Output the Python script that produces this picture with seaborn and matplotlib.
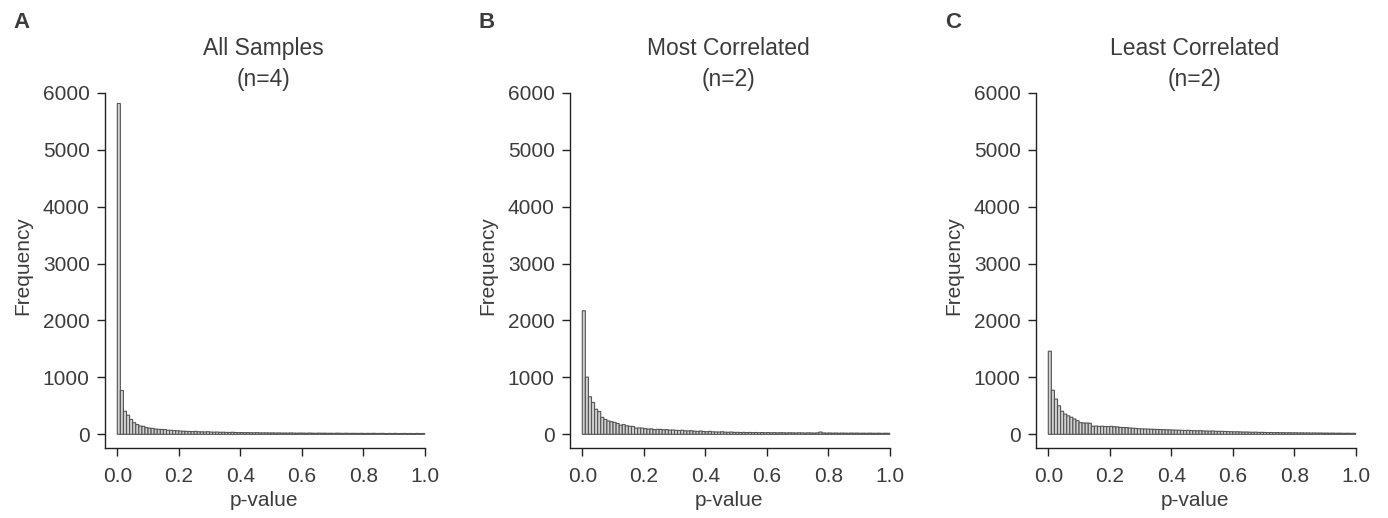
import numpy as np
import pandas as pd
import matplotlib
matplotlib.use("Agg")
import matplotlib.pyplot as plt
import seaborn as sns

# ---- data (counts per p-value bin, 100 bins of width 0.01) ----
panel_letters = ["A", "B", "C"]
panel_titles = ["All Samples\n(n=4)", "Most Correlated\n(n=2)", "Least Correlated\n(n=2)"]

counts_all = [5810, 770, 405, 335, 262, 205, 172, 146, 140, 118,
              108, 104, 92, 88, 86, 84, 72, 70, 66, 62,
              58, 55, 52, 50, 48, 52, 45, 44, 42, 46,
              40, 38, 40, 36, 37, 34, 33, 36, 32, 30,
              31, 29, 30, 28, 27, 29, 26, 25, 26, 24,
              25, 23, 24, 22, 23, 21, 24, 22, 20, 22,
              21, 19, 22, 20, 18, 21, 19, 20, 18, 19,
              17, 20, 18, 17, 19, 16, 18, 17, 16, 18,
              15, 17, 16, 18, 15, 16, 17, 14, 16, 15,
              17, 14, 15, 16, 14, 15, 13, 16, 14, 15]

counts_most = [2170, 1005, 660, 560, 440, 400, 298, 262, 235, 222,
               210, 190, 160, 170, 150, 142, 138, 108, 112, 110,
               100, 92, 96, 84, 88, 86, 80, 82, 74, 76,
               70, 68, 72, 62, 60, 64, 55, 52, 58, 50,
               46, 52, 44, 42, 40, 45, 38, 36, 40, 34,
               35, 32, 34, 31, 33, 30, 32, 29, 31, 28,
               30, 27, 29, 26, 28, 27, 25, 28, 26, 24,
               27, 25, 23, 26, 24, 22, 25, 40, 24, 22,
               24, 21, 23, 20, 22, 21, 19, 22, 20, 21,
               19, 20, 18, 21, 19, 18, 20, 17, 19, 18]

counts_least = [1460, 775, 620, 500, 405, 355, 325, 300, 270, 240,
                205, 200, 198, 195, 142, 145, 140, 142, 138, 136,
                140, 134, 130, 122, 120, 118, 112, 108, 104, 98,
                96, 94, 92, 90, 88, 86, 84, 82, 80, 78,
                76, 74, 72, 70, 68, 70, 66, 64, 62, 64,
                60, 58, 56, 58, 54, 52, 53, 50, 48, 46,
                44, 45, 42, 40, 41, 38, 36, 38, 34, 35,
                33, 31, 32, 30, 31, 28, 29, 27, 28, 26,
                27, 25, 26, 24, 25, 23, 24, 22, 23, 21,
                22, 20, 21, 19, 20, 19, 18, 19, 17, 18]

x_ticks = [0.0, 0.2, 0.4, 0.6, 0.8, 1.0]
y_ticks = [0, 1000, 2000, 3000, 4000, 5000, 6000]

# ---- style ----
sns.set_style("ticks")
plt.rcParams["font.family"] = ["Liberation Sans", "DejaVu Sans"]
text_col = "#3c3c3c"

W, H = 1388, 518
fig = plt.figure(figsize=(W / 100, H / 100), dpi=100)

n_bins = len(counts_all)
centers = (np.arange(n_bins) + 0.5) / n_bins

lefts_px = [105, 570, 1036]
letter_px = [13, 478, 945]
ax_w_px = 332
top_px, bot_px = 79, 448

for i, counts in enumerate([counts_all, counts_most, counts_least]):
    ax = fig.add_axes([lefts_px[i] / W, 1 - bot_px / H, ax_w_px / W, (bot_px - top_px) / H])
    df = pd.DataFrame({"p": centers, "n": counts})
    sns.histplot(data=df, x="p", weights="n", binwidth=1.0 / n_bins, binrange=(0, 1), ax=ax,
                 color="#d0d0d0", edgecolor="#555555", linewidth=0.8, alpha=1.0)
    for p in ax.patches:
        p.set_snap(False)
        p.set_linewidth(0.8)
        p.set_edgecolor("#555555")
    ax.set_xlim(-0.04, 1.04)
    ax.set_ylim(-240, 6240)
    sns.despine(ax=ax)
    ax.spines["left"].set_bounds(-240, 6000)
    ax.spines["bottom"].set_bounds(-0.04, 1.0)
    for s in ("left", "bottom"):
        ax.spines[s].set_color("#222222")
        ax.spines[s].set_linewidth(1.0)
    ax.set_xticks(x_ticks)
    ax.set_xticklabels([f"{t:.1f}" for t in x_ticks])
    ax.set_yticks(y_ticks)
    ax.set_yticklabels([str(t) for t in y_ticks])
    ax.tick_params(axis="both", length=6, width=1.0, color="#222222",
                   labelsize=15, labelcolor=text_col, pad=5)
    ax.tick_params(axis="x", pad=8)
    ax.set_xlabel("p-value", fontsize=15, color=text_col)
    ax.set_ylabel("Frequency", fontsize=15, color=text_col)
    ax.xaxis.set_label_coords((264 - 105) / ax_w_px, (bot_px - 501) / (bot_px - top_px))
    ax.xaxis.label.set_va("center")
    ax.yaxis.set_label_coords((23 - 105) / ax_w_px, (bot_px - 266) / (bot_px - top_px))
    ax.yaxis.label.set_va("center")
    ax.text(0.475, 6500, panel_titles[i], ha="center", va="center",
            fontsize=16.5, color=text_col, linespacing=1.45, clip_on=False)
    fig.text(letter_px[i] / W, 1 - 22 / H, panel_letters[i], ha="left", va="center",
             fontsize=16, fontweight="bold", color=text_col)

fig.savefig("out.png", dpi=100)
